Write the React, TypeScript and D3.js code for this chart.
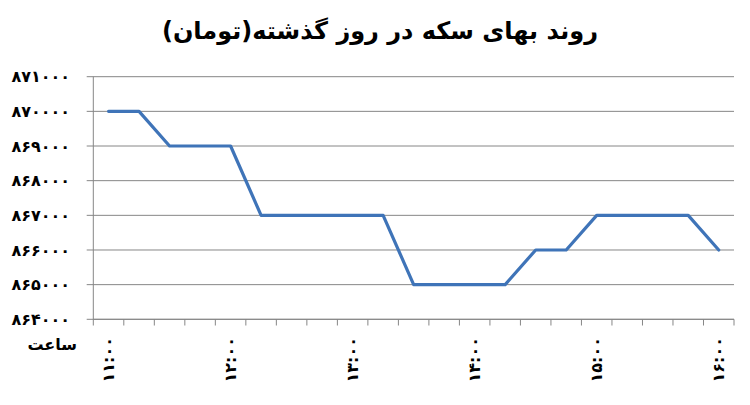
import React from "react";
import * as d3 from "d3";

const times = ["11:00","11:15","11:30","11:45","12:00","12:15","12:30","12:45","13:00","13:15","13:30","13:45","14:00","14:15","14:30","14:45","15:00","15:15","15:30","15:45","16:00"];
const prices = [870000,870000,869000,869000,869000,867000,867000,867000,867000,867000,865000,865000,865000,865000,866000,866000,867000,867000,867000,867000,866000];
const yTicks = [864000,865000,866000,867000,868000,869000,870000,871000];
const labelEvery = 4;
const title = "روند بهای سکه در روز گذشته(تومان)";
const xAxisTitle = "ساعت";

const fa = (s: string) => s.replace(/[0-9]/g, (d) => "۰۱۲۳۴۵۶۷۸۹"[+d]);

export default function App() {
  const W = 750, H = 405;
  const left = 93.3, right = 734, top = 76.7, bottom = 319.3;
  const x = d3.scaleBand<string>().domain(times).range([left, right]).padding(0);
  const y = d3.scaleLinear().domain([864000, 871000]).range([bottom, top]);
  const line = d3.line<number>().x((_, i) => (x(times[i]) as number) + x.bandwidth() / 2).y((d) => y(d));
  const tickXs = d3.range(times.length + 1).map((i) => left + i * x.bandwidth());
  const grid = "#868686";
  return (
    <div style={{ position: "absolute", left: 0, top: 0 }}>
      <svg width={W} height={H} style={{ display: "block", background: "#fff" }}>
        <text x={380} y={39} textAnchor="middle" fontFamily="DejaVu Sans" fontWeight="bold" fontSize={24} fill="#000">{title}</text>
        {yTicks.map((t) => (
          <g key={t}>
            <line x1={86.7} x2={right} y1={y(t)} y2={y(t)} stroke={grid} strokeWidth={1} />
            <text x={70} y={y(t)} dy="0.35em" textAnchor="end" fontFamily="DejaVu Sans" fontWeight="bold" fontSize={16} letterSpacing={0.8} fill="#000">{fa(d3.format("d")(t))}</text>
          </g>
        ))}
        <line x1={left} x2={left} y1={top} y2={bottom} stroke={grid} strokeWidth={1} />
        <line x1={left} x2={right} y1={bottom} y2={bottom} stroke={grid} strokeWidth={1} />
        {tickXs.map((tx, i) => (
          <line key={i} x1={tx} x2={tx} y1={bottom} y2={325.5} stroke={grid} strokeWidth={1} />
        ))}
        {times.map((t, i) =>
          i % labelEvery === 0 ? (
            <text key={t} transform={`translate(${(x(t) as number) + x.bandwidth() / 2},337) rotate(-90)`} textAnchor="end" dy="0.35em" fontFamily="DejaVu Sans" fontWeight="bold" fontSize={16} letterSpacing={1} fill="#000">{fa(t)}</text>
          ) : null
        )}
        <text x={77} y={350} textAnchor="end" fontFamily="DejaVu Sans" fontWeight="bold" fontSize={16} fill="#000">{xAxisTitle}</text>
        <path d={line(prices) || ""} fill="none" stroke="#3f74b8" strokeWidth={3.2} strokeLinejoin="round" strokeLinecap="round" />
      </svg>
    </div>
  );
}
